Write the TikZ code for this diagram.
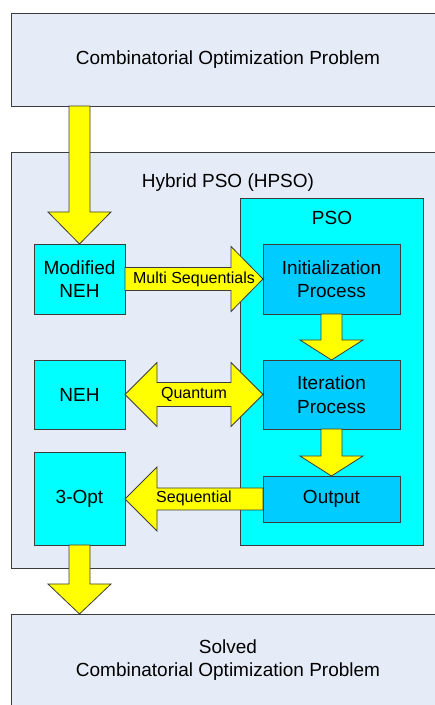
\documentclass[tikz,border=0pt]{standalone}
\usepackage{fontspec}
\setmainfont{Liberation Sans}
\usetikzlibrary{calc}
\definecolor{paleblue}{HTML}{E6ECF7}
\definecolor{aqua}{HTML}{00FFFF}
\definecolor{skyfill}{HTML}{00CCFF}
\definecolor{arrowfill}{HTML}{FFFF00}
\definecolor{edge}{HTML}{3C3C3C}
\newcommand{\boxfont}{\fontsize{19}{23.5}\selectfont}
\newcommand{\tagfont}{\fontsize{16}{19}\selectfont}
\tikzset{
    outerbox/.style={draw=edge,fill=paleblue,line width=0.8pt,inner sep=0pt,
      outer sep=0pt,minimum width=434pt,font=\boxfont,align=center},
    psobox/.style={draw=edge,fill=aqua,line width=0.8pt,inner sep=0pt,outer sep=0pt},
    sidebox/.style={draw=edge,fill=aqua,line width=0.8pt,inner sep=0pt,outer sep=0pt,
      minimum width=91pt,font=\boxfont,align=center},
    stepbox/.style={draw=edge,fill=skyfill,line width=0.8pt,inner sep=0pt,outer sep=0pt,
      minimum width=137pt,font=\boxfont,align=center},
    titletext/.style={font=\boxfont,inner sep=0pt},
    flowtag/.style={font=\tagfont,inner sep=0pt},
    blockarrow/.style={draw=edge,fill=arrowfill,line width=0.8pt,line join=miter},
    blockdown/.style={to path={let \p1=(\tikztostart),\p2=(\tikztotarget) in
      (\x1-10.5pt,\y1) -- (\x1-10.5pt,\y2+#1) -- (\x1-31.5pt,\y2+#1) -- (\x1,\y2)
      -- (\x1+31.5pt,\y2+#1) -- (\x1+10.5pt,\y2+#1) -- (\x1+10.5pt,\y1) -- cycle}},
    blockdown/.default=20pt,
    blockright/.style={to path={let \p1=(\tikztostart),\p2=(\tikztotarget) in
      (\x1,\y1+11.5pt) -- (\x2-32pt,\y1+11.5pt) -- (\x2-32pt,\y1+32.5pt) -- (\x2,\y1)
      -- (\x2-32pt,\y1-32.5pt) -- (\x2-32pt,\y1-11.5pt) -- (\x1,\y1-11.5pt) -- cycle}},
    blockleft/.style={to path={let \p1=(\tikztostart),\p2=(\tikztotarget) in
      (\x1,\y1+11pt) -- (\x2+32pt,\y1+11pt) -- (\x2+32pt,\y1+32pt) -- (\x2,\y1)
      -- (\x2+32pt,\y1-32pt) -- (\x2+32pt,\y1-11pt) -- (\x1,\y1-11pt) -- cycle}},
    blockboth/.style={to path={let \p1=(\tikztostart),\p2=(\tikztotarget) in
      (\x1,\y1) -- (\x1+32pt,\y1+32pt) -- (\x1+32pt,\y1+12pt) -- (\x2-32pt,\y1+12pt)
      -- (\x2-32pt,\y1+32pt) -- (\x2,\y1) -- (\x2-32pt,\y1-32pt) -- (\x2-32pt,\y1-12pt)
      -- (\x1+32pt,\y1-12pt) -- (\x1+32pt,\y1-32pt) -- cycle}}
}

\begin{document}
\begin{tikzpicture}[x=1pt,y=1pt]
  \useasboundingbox (0,0) rectangle (435,705);
  \clip (0,0) rectangle (435,705);
  % problem in, problem out
  \node[outerbox,minimum height=93pt] (problem) at (228,645.5) {Combinatorial Optimization Problem};
  \node[outerbox,minimum height=92pt] (solved) at (228,45) {Solved\\Combinatorial Optimization Problem};
  % hybrid frame with the PSO core
  \node[outerbox,minimum height=416pt] (hpso) at (228,345) {};
  \node[titletext] at (228,522) {Hybrid PSO (HPSO)};
  \node[psobox,minimum width=183pt,minimum height=347pt] (pso) at (331.5,333.5) {};
  \node[titletext] at (332,487) {PSO};
  \node[stepbox,minimum height=70pt] (init) at (331.5,426) {Initialization\\Process};
  \node[stepbox,minimum height=69pt] (iter) at (331.5,310.5) {Iteration\\Process};
  \node[stepbox,minimum height=46pt] (output) at (331.5,206) {Output};
  % heuristics on the left
  \node[sidebox,minimum height=70pt] (mneh) at (79.5,426) {Modified\\NEH};
  \node[sidebox,minimum height=69pt] (neh) at (79.5,310.5) {NEH};
  \node[sidebox,minimum height=93pt] (opt) at (79.5,206.5) {3-Opt};
  % block arrows
  \path[blockarrow] (mneh.north |- problem.south) to[blockdown=32pt] (mneh.north);
  \path[blockarrow] (init.south) to[blockdown] (iter.north);
  \path[blockarrow] (iter.south) to[blockdown] (output.north);
  \path[blockarrow] (opt.south) to[blockdown=30pt] (opt.south |- solved.north);
  \path[blockarrow] (mneh.east) to[blockright] (init.west);
  \path[blockarrow] (neh.east) to[blockboth] (iter.west);
  \path[blockarrow] (output.west) to[blockleft] (opt.east);
  \node[flowtag] at ($(mneh.east)!0.5!(init.west)$) {Multi Sequentials};
  \node[flowtag] at ($(neh.east)!0.5!(iter.west)$) {Quantum};
  \node[flowtag] at ($(opt.east)!0.5!(output.west)$) {Sequential};
\end{tikzpicture}
\end{document}
